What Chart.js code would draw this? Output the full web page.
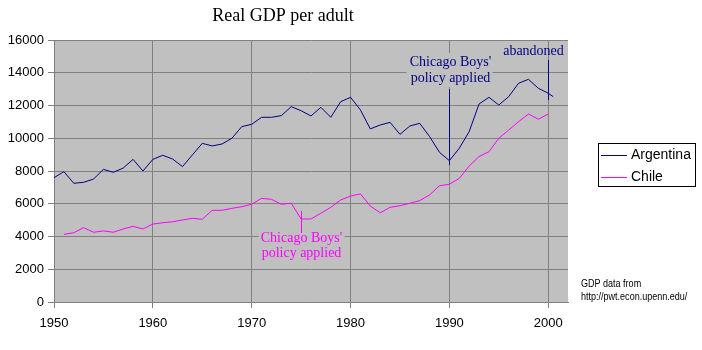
<!DOCTYPE html>
<html>
<head>
<meta charset="utf-8">
<title>Real GDP per adult</title>
<script src="https://cdn.jsdelivr.net/npm/chart.js@4.4.1/dist/chart.umd.min.js"></script>
<style>
  html, body { margin: 0; padding: 0; background: #fff; }
  #gdpChart { display: block; }
</style>
</head>
<body>
<canvas id="gdpChart" width="702" height="350"></canvas>
<script>
// ------------------------------------------------------------
// DATA
// ------------------------------------------------------------
const years = [
  1950, 1951, 1952, 1953, 1954, 1955, 1956, 1957, 1958, 1959,
  1960, 1961, 1962, 1963, 1964, 1965, 1966, 1967, 1968, 1969,
  1970, 1971, 1972, 1973, 1974, 1975, 1976, 1977, 1978, 1979,
  1980, 1981, 1982, 1983, 1984, 1985, 1986, 1987, 1988, 1989,
  1990, 1991, 1992, 1993, 1994, 1995, 1996, 1997, 1998, 1999,
  2000
];

const argentina = [
  7590, 7960, 7250, 7310, 7510, 8100, 7920, 8180, 8710, 8000,
  8710, 8960, 8730, 8270, 8980, 9690, 9530, 9650, 10000, 10710,
  10850, 11280, 11280, 11380, 11930, 11680, 11360, 11890, 11280, 12230,
  12500, 11730, 10570, 10810, 10970, 10240, 10750, 10910, 10100, 9140,
  8630, 9390, 10400, 12090, 12500, 12030, 12540, 13360, 13600, 13050,
  12750
];
// the Argentina line runs a little past the 2000 gridline
const argentinaTail = { year: 2000.5, value: 12540 };

const chile = [
  null, 4130, 4230, 4540, 4260, 4340, 4260, 4460, 4620, 4460,
  4760, 4840, 4900, 5010, 5110, 5050, 5600, 5600, 5720, 5820,
  5970, 6330, 6270, 5970, 6030, 5070, 5070, 5420, 5780, 6230,
  6470, 6600, 5860, 5450, 5780, 5880, 6030, 6190, 6540, 7100,
  7190, 7550, 8300, 8880, 9180, 10000, 10500, 11010, 11480, 11160,
  11480
];

const xTicks = [1950, 1960, 1970, 1980, 1990, 2000];
const yTicks = [0, 2000, 4000, 6000, 8000, 10000, 12000, 14000, 16000];

const seriesNames = ["Argentina", "Chile"];
const seriesColors = ["#000080", "#FF00FF"];

// annotations: [year, top value, bottom value]
const policyArg = { year: 1990, top: 13000, bottom: 8370, lines: ["Chicago Boys'", "policy applied"] };
const abandonArg = { year: 2000, top: 14780, bottom: 12340, text: "abandoned" };
const policyChile = { year: 1975, top: 5560, bottom: 4210, lines: ["Chicago Boys'", "policy applied"] };

// ------------------------------------------------------------
// HELPERS
// ------------------------------------------------------------
function toPoints(xs, ys) {
  const pts = [];
  for (let i = 0; i < xs.length; i++) {
    if (ys[i] !== null) pts.push({ x: xs[i], y: ys[i] });
  }
  return pts;
}

const argPoints = toPoints(years, argentina);
argPoints.push({ x: argentinaTail.year, y: argentinaTail.value });
const chilePoints = toPoints(years, chile);

const plotBg = {
  id: "plotBg",
  beforeDraw(chart) {
    const { ctx, chartArea: a } = chart;
    ctx.save();
    ctx.fillStyle = "#C0C0C0";
    ctx.fillRect(a.left, a.top, a.right - a.left, a.bottom - a.top);
    ctx.restore();
  },
};

const extras = {
  id: "extras",
  afterDatasetsDraw(chart) {
    const ctx = chart.ctx;
    const xs = chart.scales.x;
    const ys = chart.scales.y;
    ctx.save();

    // --- Argentina: policy applied (1990)
    let px = Math.round(xs.getPixelForValue(policyArg.year)) + 0.5;
    ctx.font = "14px 'Liberation Serif', 'Times New Roman', serif";
    ctx.textAlign = "center";
    ctx.textBaseline = "middle";
    ctx.fillStyle = "#C0C0C0";
    ctx.fillRect(px - 43, 53, 86, 34);
    ctx.fillStyle = "#000080";
    ctx.fillText(policyArg.lines[0], px + 1, 62);
    ctx.fillText(policyArg.lines[1], px + 1, 78);
    ctx.strokeStyle = "#000080";
    ctx.lineWidth = 1;
    ctx.beginPath();
    ctx.moveTo(px, ys.getPixelForValue(policyArg.top));
    ctx.lineTo(px, ys.getPixelForValue(policyArg.bottom));
    ctx.stroke();

    // --- Argentina: abandoned (2000)
    px = Math.round(xs.getPixelForValue(abandonArg.year)) + 0.5;
    ctx.fillStyle = "#000080";
    ctx.fillText(abandonArg.text, px - 15, 51);
    ctx.beginPath();
    ctx.moveTo(px, ys.getPixelForValue(abandonArg.top));
    ctx.lineTo(px, ys.getPixelForValue(abandonArg.bottom));
    ctx.stroke();

    // --- Chile: policy applied (1975)
    px = Math.round(xs.getPixelForValue(policyChile.year)) + 0.5;
    ctx.fillStyle = "#C0C0C0";
    ctx.fillRect(px - 43, 230, 86, 31);
    ctx.fillStyle = "#FF00FF";
    ctx.fillText(policyChile.lines[0], px, 238);
    ctx.fillText(policyChile.lines[1], px, 253);
    ctx.strokeStyle = "#FF00FF";
    ctx.beginPath();
    ctx.moveTo(px, ys.getPixelForValue(policyChile.top));
    ctx.lineTo(px, ys.getPixelForValue(policyChile.bottom));
    ctx.stroke();

    ctx.restore();
  },
  afterDraw(chart) {
    const ctx = chart.ctx;
    ctx.save();

    // title
    ctx.fillStyle = "#000";
    ctx.font = "18px 'Liberation Serif', 'Times New Roman', serif";
    ctx.textAlign = "center";
    ctx.textBaseline = "middle";
    ctx.fillText("Real GDP per adult", 283, 16);

    // legend
    ctx.fillStyle = "#fff";
    ctx.fillRect(598, 143, 98, 44);
    ctx.strokeStyle = "#000";
    ctx.lineWidth = 1;
    ctx.strokeRect(598.5, 143.5, 97, 43);
    ctx.font = "14px 'Liberation Sans', Arial, sans-serif";
    ctx.textAlign = "left";
    const rows = [155.5, 177.5];
    seriesNames.forEach((name, i) => {
      ctx.strokeStyle = seriesColors[i];
      ctx.beginPath();
      ctx.moveTo(601, rows[i]);
      ctx.lineTo(627, rows[i]);
      ctx.stroke();
      ctx.fillStyle = "#000";
      ctx.fillText(name, 631, rows[i]);
    });

    // source note
    ctx.font = "11px 'Liberation Sans Narrow', 'Liberation Sans', Arial, sans-serif";
    ctx.translate(581, 0);
    ctx.scale(0.82, 1);
    ctx.fillText("GDP data from", 0, 284);
    ctx.fillText("http://pwt.econ.upenn.edu/", 0, 297);

    ctx.restore();
  },
};

// ------------------------------------------------------------
// CHART
// ------------------------------------------------------------
const tickFont = { family: "'Liberation Sans', Arial, sans-serif", size: 13 };

new Chart(document.getElementById("gdpChart"), {
  type: "line",
  data: {
    datasets: [
      {
        label: seriesNames[0],
        data: argPoints,
        borderColor: seriesColors[0],
        borderWidth: 1,
        pointRadius: 0,
        tension: 0,
      },
      {
        label: seriesNames[1],
        data: chilePoints,
        borderColor: seriesColors[1],
        borderWidth: 1,
        pointRadius: 0,
        tension: 0,
      },
    ],
  },
  options: {
    responsive: false,
    animation: false,
    layout: { padding: { top: 40, right: 134, left: 0, bottom: 0 } },
    plugins: {
      legend: { display: false },
      title: { display: false },
      tooltip: { enabled: false },
    },
    scales: {
      x: {
        type: "linear",
        min: 1950,
        max: 2002,
        afterBuildTicks: (s) => { s.ticks = xTicks.map((v) => ({ value: v })); },
        afterFit: (s) => { s.height = 48; },
        ticks: { color: "#000", font: tickFont, padding: 8, maxRotation: 0, callback: (v) => String(v) },
        grid: { color: "#808080", lineWidth: 1, tickLength: 6, tickColor: "#808080" },
        border: { color: "#808080" },
      },
      y: {
        min: 0,
        max: 16000,
        afterBuildTicks: (s) => { s.ticks = yTicks.map((v) => ({ value: v })); },
        afterFit: (s) => { s.width = 54; },
        ticks: { color: "#000", font: tickFont, padding: 4, callback: (v) => String(v) },
        grid: { color: "#808080", lineWidth: 1, tickLength: 6, tickColor: "#808080" },
        border: { color: "#808080" },
      },
    },
  },
  plugins: [plotBg, extras],
});
</script>
</body>
</html>
